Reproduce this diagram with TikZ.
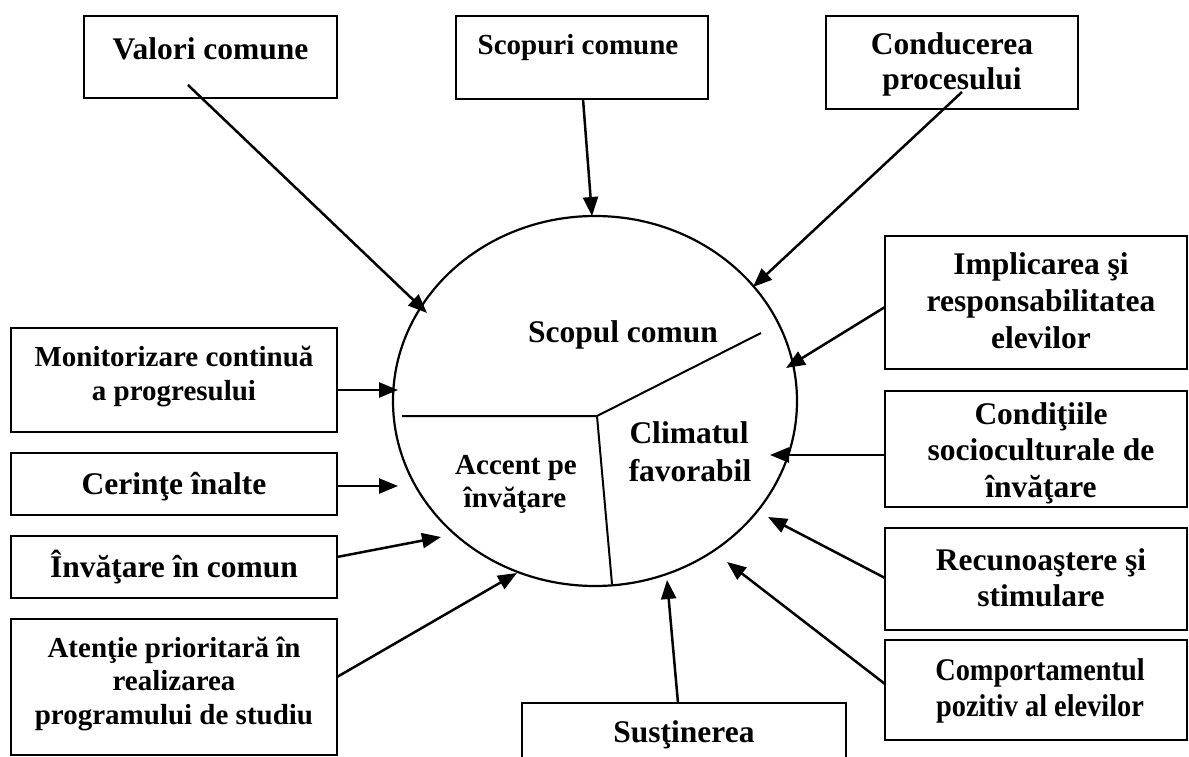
\documentclass[tikz,border=0pt]{standalone}
\usepackage{fontspec}
\setmainfont{Liberation Serif}
\usetikzlibrary{arrows.meta,shapes.geometric}
\begin{document}
\begin{tikzpicture}[x=1pt,y=-1pt,
  box/.style={draw, line width=2.6pt, inner sep=0pt, outer sep=0pt},
  txt/.style={anchor=base, inner sep=0pt, font=\bfseries\fontsize{31.5}{36}\selectfont},
  txs/.style={anchor=base, inner sep=0pt, font=\bfseries\fontsize{29}{33}\selectfont},
  arr/.style={line width=2.5pt, -{Triangle[length=19pt,width=15pt]}},
  div/.style={line width=2pt}]
\clip (0,0) rectangle (1189,757);
\fill[white] (0,0) rectangle (1189,757);

% central circle
\node[draw, ellipse, line width=2.2pt, minimum width=404, minimum height=370, inner sep=0pt] (circ) at (595,401) {};
\coordinate (jc) at (597,416);
\coordinate (dL) at (402,416);
\coordinate (dR) at (761,333);
\coordinate (dB) at (612,584);
\draw[div] (dL) -- (jc) -- (dR);
\draw[div] (jc) -- (dB);
\node[txt] (tScop) at (623,342) {Scopul comun};
\node[txt] (tClim1) at (689,443) {Climatul};
\node[txt] (tClim2) at (690,481) {favorabil};
\node[txs] (tAcc1) at (516,474) {Accent pe};
\node[txs] (tAcc2) at (515,507) {învăţare};

% boxes
\node[box, minimum width=253, minimum height=82] (bVal) at (210.5,57) {};
\node[txt] (tVal) at (210.5,60) {Valori comune};
\node[box, minimum width=252, minimum height=83] (bScp) at (582,57.5) {};
\node[txs] (tScp) at (578,55) {Scopuri comune};
\node[box, minimum width=252, minimum height=93] (bCon) at (952,62.5) {};
\node[txt] (tCon1) at (952,55) {Conducerea};
\node[txt] (tCon2) at (952,90) {procesului};

\node[box, minimum width=302, minimum height=133] (bImp) at (1036,302.5) {};
\node[txt] (tImp1) at (1041,274) {Implicarea şi};
\node[txt] (tImp2) at (1041,311) {responsabilitatea};
\node[txt] (tImp3) at (1041,348) {elevilor};
\node[box, minimum width=302, minimum height=116] (bCnd) at (1036,449) {};
\node[txt] (tCnd1) at (1041,424) {Condiţiile};
\node[txt] (tCnd2) at (1041,460) {socioculturale de};
\node[txt] (tCnd3) at (1041,497) {învăţare};
\node[box, minimum width=302, minimum height=102] (bRec) at (1036,579) {};
\node[txt] (tRec1) at (1041,570) {Recunoaştere şi};
\node[txt] (tRec2) at (1041,606) {stimulare};
\node[box, minimum width=302, minimum height=100] (bCmp) at (1036,690) {};
\node[txt, xscale=0.9] (tCmp1) at (1040,680) {Comportamentul};
\node[txt, xscale=0.9] (tCmp2) at (1040,716) {pozitiv al elevilor};
\node[box, minimum width=324, minimum height=90] (bSus) at (684,748) {};
\node[txt] (tSus) at (684,742) {Susţinerea};

\node[box, minimum width=326, minimum height=104] (bMon) at (174,380) {};
\node[txs] (tMon1) at (174,366) {Monitorizare continuă};
\node[txs] (tMon2) at (174,400) {a progresului};
\node[box, minimum width=326, minimum height=62] (bCer) at (174,484) {};
\node[txt] (tCer) at (174,494) {Cerinţe înalte};
\node[box, minimum width=326, minimum height=62] (bInv) at (174,567) {};
\node[txt] (tInv) at (174,577) {Învăţare în comun};
\node[box, minimum width=326, minimum height=136] (bAte) at (174,687) {};
\node[txs] (tAte1) at (174,657) {Atenţie prioritară în};
\node[txs] (tAte2) at (174,690) {realizarea};
\node[txs] (tAte3) at (174,724) {programului de studiu};

% arrow end points
\coordinate (sVal) at (188,85);   \coordinate (eVal) at (427,313);
\coordinate (eScp) at (592,216);
\coordinate (sCon) at (962,92);   \coordinate (eCon) at (753,287);
\coordinate (eImp) at (786,368);
\coordinate (eCnd) at (770,455);
\coordinate (eRec) at (768,517);
\coordinate (eCmp) at (727,562);
\coordinate (eSus) at (667,580);
\coordinate (eMon) at (398,390);
\coordinate (eCer) at (398,486);
\coordinate (eInv) at (441,537);
\coordinate (eAte) at (517,573);

\draw[arr] (sVal) -- (eVal);
\draw[arr] (bScp.south -| 583,0) -- (eScp);
\draw[arr] (sCon) -- (eCon);
\draw[arr] (bImp.west |- 0,307) -- (eImp);
\draw[arr] (bCnd.west |- 0,455) -- (eCnd);
\draw[arr] (bRec.west |- 0,578) -- (eRec);
\draw[arr] (bCmp.west |- 0,684) -- (eCmp);
\draw[arr] (bSus.north -| 678,0) -- (eSus);
\draw[arr] (bMon.east |- 0,390) -- (eMon);
\draw[arr] (bCer.east |- 0,486) -- (eCer);
\draw[arr] (bInv.east |- 0,557) -- (eInv);
\draw[arr] (bAte.east |- 0,677) -- (eAte);
\end{tikzpicture}
\end{document}
